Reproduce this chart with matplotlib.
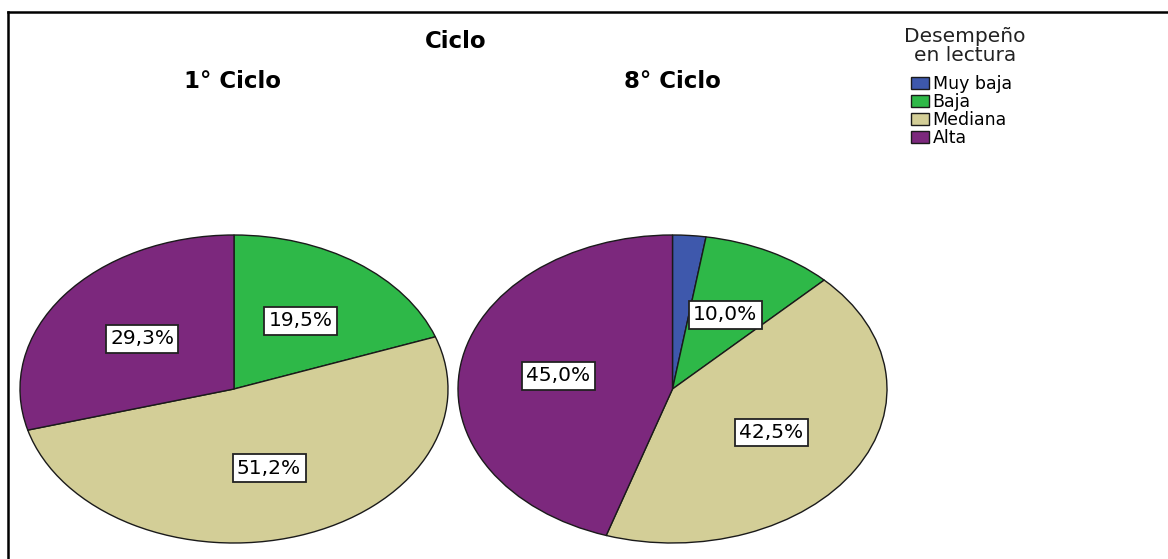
import matplotlib.pyplot as plt
from matplotlib.lines import Line2D

categorias = ['Muy baja', 'Baja', 'Mediana', 'Alta']
ciclo_1 = [0.0, 19.5, 51.2, 29.3]
ciclo_8 = [2.5, 10.0, 42.5, 45.0]
titulos = ['1° Ciclo', '8° Ciclo']
colores = ['#3E58AC', '#2EB848', '#D3CE97', '#7C287D']

W, H = 1168, 559
fig = plt.figure(figsize=(W / 100, H / 100), dpi=100)


def etiqueta(p):
    if p < 5:
        return ''
    return f'{p:.1f}%'.replace('.', ',')


# posiciones en pixeles: (izquierda, arriba, ancho, alto) de cada torta
cajas = [(20, 235, 428, 308), (458, 235, 429, 308)]
cuñas = None
for datos, caja in zip([ciclo_1, ciclo_8], cajas):
    x0, y0, w, h = caja
    ax = fig.add_axes([x0 / W, (H - y0 - h) / H, w / W, h / H])
    wedges, textos, autos = ax.pie(
        datos, colors=colores, startangle=90, counterclock=False,
        autopct=etiqueta, pctdistance=0.54, frame=True,
        wedgeprops=dict(edgecolor='#1a1a1a', linewidth=1, clip_on=False))
    for t in autos:
        t.set_fontsize(14.5)
        t.set_bbox(dict(boxstyle='square,pad=0.22', facecolor='white',
                        edgecolor='#222222', linewidth=1.3))
    ax.set_xlim(-1, 1)
    ax.set_ylim(-1, 1)
    ax.set_aspect('auto')
    ax.axis('off')
    cuñas = wedges

fig.text(456 / W, 1 - 41 / H, 'Ciclo', ha='center', va='center',
         fontsize=16.5, fontweight='bold')
fig.text(233 / W, 1 - 81 / H, titulos[0], ha='center', va='center',
         fontsize=16.5, fontweight='bold')
fig.text(672 / W, 1 - 81 / H, titulos[1], ha='center', va='center',
         fontsize=16.5, fontweight='bold')

# titulo de la leyenda
fig.text(965 / W, 1 - 46 / H, 'Desempeño\nen lectura', ha='center',
         va='center', fontsize=14.5, color='#222222', linespacing=0.95)

leg = fig.legend(cuñas, categorias, loc='upper left',
                 bbox_to_anchor=(911 / W, 1 - 75 / H),
                 frameon=False, fontsize=12.5,
                 handlelength=1.05, handleheight=0.7, handletextpad=0.2,
                 labelspacing=0.0, borderpad=0, borderaxespad=0)

# marco
fig.add_artist(Line2D([8 / W, 1], [1 - 12 / H, 1 - 12 / H], color='black', lw=1.8))
fig.add_artist(Line2D([8 / W, 8 / W], [0, 1 - 12 / H], color='black', lw=1.8))

fig.savefig('out.png', dpi=100)
